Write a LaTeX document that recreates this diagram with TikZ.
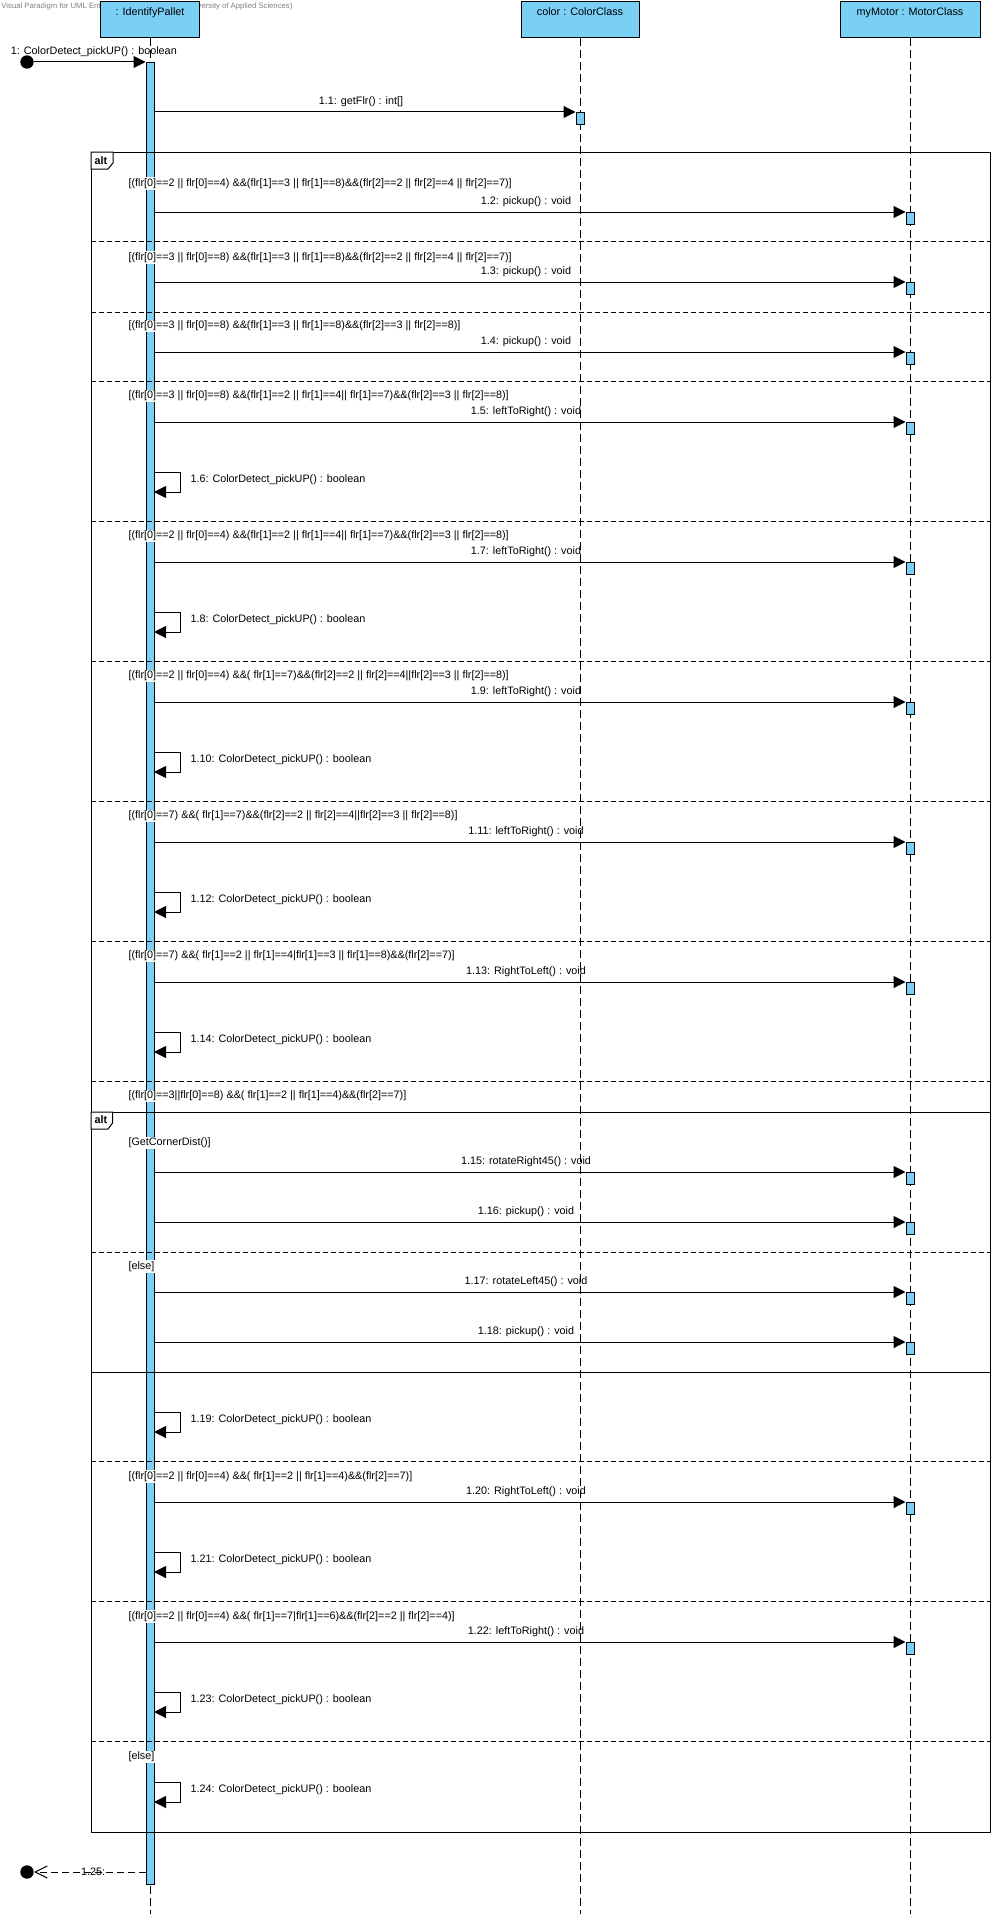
\documentclass[tikz,border=0pt]{standalone}
\usepackage{fontspec}
\setmainfont{Liberation Sans}
\usetikzlibrary{arrows.meta}
\definecolor{vpblue}{RGB}{122,207,245}

\begin{document}
\begin{tikzpicture}[
    x=1pt, y=-1pt,
    font=\fontsize{10.8pt}{13pt}\selectfont,
    line width=1pt,
    lifebox/.style={rectangle, draw=black, fill=vpblue, anchor=north, inner sep=3pt, text height=11pt, text depth=19pt},
    lifeline/.style={dash pattern=on 8pt off 4pt},
    actbar/.style={rectangle, draw=black, fill=vpblue, anchor=north, inner sep=0pt, minimum width=8pt},
    actsmall/.style={actbar, minimum height=12pt},
    endpoint/.style={circle, fill=black, inner sep=0pt, minimum size=13.4pt},
    msg/.style={-{Triangle[length=12pt, width=12pt]}},
    ret/.style={dash pattern=on 7pt off 4pt, -{Straight Barb[length=12pt, width=12pt]}},
    sep/.style={dash pattern=on 5pt off 3pt},
    tab/.style={font=\fontsize{10.8pt}{13pt}\selectfont\bfseries, inner sep=0pt},
    guard/.style={anchor=west, fill=white, inner sep=1pt},
    lbl/.style={above=3.5pt, inner sep=1pt, xshift=-4pt},
    selflbl/.style={right=9pt, inner sep=1pt, yshift=2.5pt}
]
\useasboundingbox (0,0) rectangle (994,1916);

% --- Header ---
\node (wm) at (0,7) [anchor=west, inner sep=1pt, text=black!50, font=\fontsize{7.7pt}{9pt}\selectfont] {Visual Paradigm for UML Enterprise Edition(Hamburg University of Applied Sciences)};
\node (ip) at (150,1) [lifebox, minimum width=99pt] {: IdentifyPallet};
\node (cc) at (580,1) [lifebox, minimum width=118pt] {color : ColorClass};
\node (mm) at (910,1) [lifebox, minimum width=140pt] {myMotor : MotorClass};

% --- Lifelines ---
\coordinate (ipend) at (150,1914);
\coordinate (ccend) at (580,1914);
\coordinate (mmend) at (910,1914);
\draw [lifeline] (ip.south) -- (ipend);
\draw [lifeline] (cc.south) -- (ccend);
\draw [lifeline] (mm.south) -- (mmend);
\node (act) at (150,62) [actbar, minimum height=1822pt] {};

% --- Combined fragments ---
% outer alt
\draw (91,152) rectangle (990,1832);
\draw [fill=white] (91,152) -- (113,152) -- (113,163) -- (108,169) -- (91,169) -- cycle;
\node (alt1) at (101,160.5) [tab] {alt};
\draw [sep] (91,241) -- (990,241);
\draw [sep] (91,312) -- (990,312);
\draw [sep] (91,381) -- (990,381);
\draw [sep] (91,521) -- (990,521);
\draw [sep] (91,661) -- (990,661);
\draw [sep] (91,801) -- (990,801);
\draw [sep] (91,941) -- (990,941);
\draw [sep] (91,1081) -- (990,1081);
\draw [sep] (91,1461) -- (990,1461);
\draw [sep] (91,1601) -- (990,1601);
\draw [sep] (91,1741) -- (990,1741);
% inner alt
\draw (91,1112) -- (990,1112);
\draw (91,1372) -- (990,1372);
\draw [fill=white] (91,1112) -- (112.5,1112) -- (112.5,1123) -- (108,1129) -- (91,1129) -- cycle;
\node (alt2) at (101,1120) [tab] {alt};
\draw [sep] (91,1252) -- (990,1252);

% Guards
\node (g1) at (127,183.5) [guard] {[(flr[0]==2 || flr[0]==4) \&\&(flr[1]==3 || flr[1]==8)\&\&(flr[2]==2 || flr[2]==4 || flr[2]==7)]};
\node (g2) at (127,257.5) [guard] {[(flr[0]==3 || flr[0]==8) \&\&(flr[1]==3 || flr[1]==8)\&\&(flr[2]==2 || flr[2]==4 || flr[2]==7)]};
\node (g3) at (127,326) [guard] {[(flr[0]==3 || flr[0]==8) \&\&(flr[1]==3 || flr[1]==8)\&\&(flr[2]==3 || flr[2]==8)]};
\node (g4) at (127,396) [guard] {[(flr[0]==3 || flr[0]==8) \&\&(flr[1]==2 || flr[1]==4|| flr[1]==7)\&\&(flr[2]==3 || flr[2]==8)]};
\node (g5) at (127,536) [guard] {[(flr[0]==2 || flr[0]==4) \&\&(flr[1]==2 || flr[1]==4|| flr[1]==7)\&\&(flr[2]==3 || flr[2]==8)]};
\node (g6) at (127,676) [guard] {[(flr[0]==2 || flr[0]==4) \&\&( flr[1]==7)\&\&(flr[2]==2 || flr[2]==4||flr[2]==3 || flr[2]==8)]};
\node (g7) at (127,816) [guard] {[(flr[0]==7) \&\&( flr[1]==7)\&\&(flr[2]==2 || flr[2]==4||flr[2]==3 || flr[2]==8)]};
\node (g8) at (127,956) [guard] {[(flr[0]==7) \&\&( flr[1]==2 || flr[1]==4|flr[1]==3 || flr[1]==8)\&\&(flr[2]==7)]};
\node (g9) at (127,1096) [guard] {[(flr[0]==3||flr[0]==8) \&\&( flr[1]==2 || flr[1]==4)\&\&(flr[2]==7)]};
\node (g9a) at (127,1143) [guard] {[GetCornerDist()]};
\node (g9b) at (127,1266.5) [guard] {[else]};
\node (g10) at (127,1476.5) [guard] {[(flr[0]==2 || flr[0]==4) \&\&( flr[1]==2 || flr[1]==4)\&\&(flr[2]==7)]};
\node (g11) at (127,1616.5) [guard] {[(flr[0]==2 || flr[0]==4) \&\&( flr[1]==7|flr[1]==6)\&\&(flr[2]==2 || flr[2]==4)]};
\node (g12) at (127,1757) [guard] {[else]};

% --- Messages ---
\node (start) at (27,62) [endpoint] {};
\draw [msg] (start) -- (act.north west) node[midway, lbl, xshift=8pt] {1: ColorDetect\_pickUP() : boolean};

\node (c1) at (580,112) [actsmall] {};
\draw [msg] (act.east |- c1.north) -- (c1.north west) node[midway, lbl] {1.1: getFlr() : int[]};

\node (a2) at (910,212) [actsmall] {};
\draw [msg] (act.east |- a2.north) -- (a2.north west) node[midway, lbl] {1.2: pickup() : void};
\node (a3) at (910,282) [actsmall] {};
\draw [msg] (act.east |- a3.north) -- (a3.north west) node[midway, lbl] {1.3: pickup() : void};
\node (a4) at (910,352) [actsmall] {};
\draw [msg] (act.east |- a4.north) -- (a4.north west) node[midway, lbl] {1.4: pickup() : void};
\node (a5) at (910,422) [actsmall] {};
\draw [msg] (act.east |- a5.north) -- (a5.north west) node[midway, lbl] {1.5: leftToRight() : void};
\node (a7) at (910,562) [actsmall] {};
\draw [msg] (act.east |- a7.north) -- (a7.north west) node[midway, lbl] {1.7: leftToRight() : void};
\node (a9) at (910,702) [actsmall] {};
\draw [msg] (act.east |- a9.north) -- (a9.north west) node[midway, lbl] {1.9: leftToRight() : void};
\node (a11) at (910,842) [actsmall] {};
\draw [msg] (act.east |- a11.north) -- (a11.north west) node[midway, lbl] {1.11: leftToRight() : void};
\node (a13) at (910,982) [actsmall] {};
\draw [msg] (act.east |- a13.north) -- (a13.north west) node[midway, lbl] {1.13: RightToLeft() : void};
\node (a15) at (910,1172) [actsmall] {};
\draw [msg] (act.east |- a15.north) -- (a15.north west) node[midway, lbl] {1.15: rotateRight45() : void};
\node (a16) at (910,1222) [actsmall] {};
\draw [msg] (act.east |- a16.north) -- (a16.north west) node[midway, lbl] {1.16: pickup() : void};
\node (a17) at (910,1292) [actsmall] {};
\draw [msg] (act.east |- a17.north) -- (a17.north west) node[midway, lbl] {1.17: rotateLeft45() : void};
\node (a18) at (910,1342) [actsmall] {};
\draw [msg] (act.east |- a18.north) -- (a18.north west) node[midway, lbl] {1.18: pickup() : void};
\node (a20) at (910,1502) [actsmall] {};
\draw [msg] (act.east |- a20.north) -- (a20.north west) node[midway, lbl] {1.20: RightToLeft() : void};
\node (a22) at (910,1642) [actsmall] {};
\draw [msg] (act.east |- a22.north) -- (a22.north west) node[midway, lbl] {1.22: leftToRight() : void};

% Self calls
\coordinate (s6) at (154,472);
\draw [msg] (s6) -- ++(26,0) -- ++(0,20) node[midway, selflbl] {1.6: ColorDetect\_pickUP() : boolean} -- ++(-26,0);
\coordinate (s8) at (154,612);
\draw [msg] (s8) -- ++(26,0) -- ++(0,20) node[midway, selflbl] {1.8: ColorDetect\_pickUP() : boolean} -- ++(-26,0);
\coordinate (s10) at (154,752);
\draw [msg] (s10) -- ++(26,0) -- ++(0,20) node[midway, selflbl] {1.10: ColorDetect\_pickUP() : boolean} -- ++(-26,0);
\coordinate (s12) at (154,892);
\draw [msg] (s12) -- ++(26,0) -- ++(0,20) node[midway, selflbl] {1.12: ColorDetect\_pickUP() : boolean} -- ++(-26,0);
\coordinate (s14) at (154,1032);
\draw [msg] (s14) -- ++(26,0) -- ++(0,20) node[midway, selflbl] {1.14: ColorDetect\_pickUP() : boolean} -- ++(-26,0);
\coordinate (s19) at (154,1412);
\draw [msg] (s19) -- ++(26,0) -- ++(0,20) node[midway, selflbl] {1.19: ColorDetect\_pickUP() : boolean} -- ++(-26,0);
\coordinate (s21) at (154,1552);
\draw [msg] (s21) -- ++(26,0) -- ++(0,20) node[midway, selflbl] {1.21: ColorDetect\_pickUP() : boolean} -- ++(-26,0);
\coordinate (s23) at (154,1692);
\draw [msg] (s23) -- ++(26,0) -- ++(0,20) node[midway, selflbl] {1.23: ColorDetect\_pickUP() : boolean} -- ++(-26,0);
\coordinate (s24) at (154,1782);
\draw [msg] (s24) -- ++(26,0) -- ++(0,20) node[midway, selflbl] {1.24: ColorDetect\_pickUP() : boolean} -- ++(-26,0);

% Return
\coordinate (r25) at (146,1872);
\node (stop) at (27,1872) [endpoint] {};
\draw [ret] (r25) -- (stop) node[midway, inner sep=1pt, xshift=3pt] {1.25:};

\end{tikzpicture}
\end{document}
